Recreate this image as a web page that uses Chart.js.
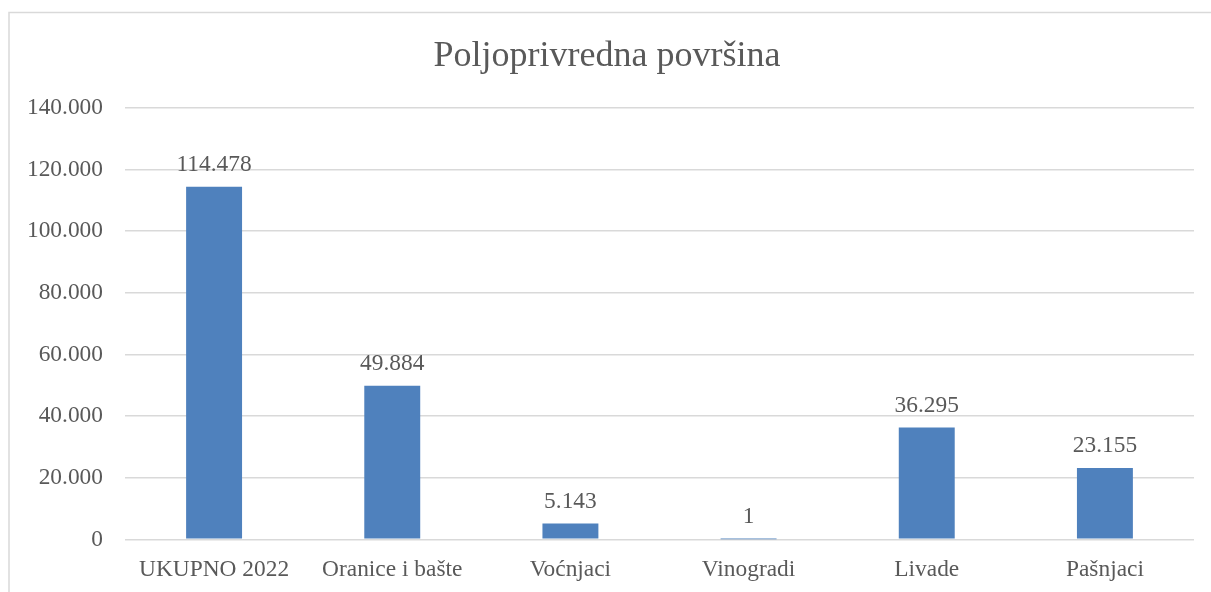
<!DOCTYPE html>
<html>
<head>
<meta charset="utf-8">
<script src="https://cdn.jsdelivr.net/npm/chart.js@4"></script>
<style>
html,body{margin:0;padding:0;background:#fff;}
#wrap{position:relative;width:1211px;height:592px;}
</style>
</head>
<body>
<div id="wrap"><canvas id="c" width="1211" height="592"></canvas></div>
<script>
const categories = ["UKUPNO 2022", "Oranice i bašte", "Voćnjaci", "Vinogradi", "Livade", "Pašnjaci"];
const values = [114478, 49884, 5143, 1, 36295, 23155];
const chartTitle = "Poljoprivredna površina";
const yMin = 0, yMax = 140000, yStep = 20000;

const FONT = '"Liberation Serif", "Times New Roman", serif';
const TEXT = '#595959';
const GRID = '#d9d9d9';
const BAR = '#4F81BD';

function fmt(v){
  return String(Math.round(v)).replace(/\B(?=(\d{3})+(?!\d))/g, '.');
}

const frame = {
  id: 'frame',
  beforeDraw(chart){
    const ctx = chart.ctx;
    ctx.save();
    ctx.fillStyle = '#fff';
    ctx.fillRect(0,0,chart.width,chart.height);
    ctx.strokeStyle = GRID;
    ctx.lineWidth = 1.5;
    ctx.strokeRect(9, 12.5, chart.width + 50, chart.height + 50);
    ctx.restore();
  }
};

const labelsPlugin = {
  id: 'barLabels',
  afterDatasetsDraw(chart){
    const ctx = chart.ctx;
    const meta = chart.getDatasetMeta(0);
    ctx.save();
    ctx.font = '23.4px ' + FONT;
    ctx.fillStyle = TEXT;
    ctx.textAlign = 'center';
    ctx.textBaseline = 'alphabetic';
    meta.data.forEach((bar, i) => {
      ctx.fillText(fmt(chart.data.datasets[0].data[i]), bar.x, bar.y - 16);
    });
    ctx.restore();
  }
};

new Chart(document.getElementById('c'), {
  type: 'bar',
  data: {
    labels: categories,
    datasets: [{
      data: values,
      backgroundColor: BAR,
      borderWidth: 0,
      categoryPercentage: 1,
      barPercentage: 0.314
    }]
  },
  options: {
    responsive: false,
    animation: false,
    layout: { padding: { left: 20, right: 17, top: 0, bottom: 8 } },
    plugins: {
      legend: { display: false },
      tooltip: { enabled: false },
      title: {
        display: true,
        text: chartTitle,
        color: TEXT,
        font: { family: FONT, size: 36, weight: 'normal', lineHeight: 1.2 },
        padding: { top: 35.4, bottom: 29.4 }
      }
    },
    scales: {
      x: {
        afterFit(scale){ scale.height = 44.6; },
        grid: { display: false, drawTicks: false },
        border: { display: false },
        ticks: {
          color: TEXT,
          font: { family: FONT, size: 23.4, lineHeight: 1.2 },
          padding: 16.5,
          maxRotation: 0,
          autoSkip: false
        }
      },
      y: {
        min: yMin,
        max: yMax,
        afterFit(scale){ scale.width = 105; },
        grid: { color: GRID, lineWidth: 1.6, drawTicks: false },
        border: { display: false },
        ticks: {
          stepSize: yStep,
          color: TEXT,
          font: { family: FONT, size: 23.4, lineHeight: 1.2 },
          padding: 22,
          callback: v => fmt(v)
        }
      }
    }
  },
  plugins: [frame, labelsPlugin]
});
</script>
</body>
</html>
